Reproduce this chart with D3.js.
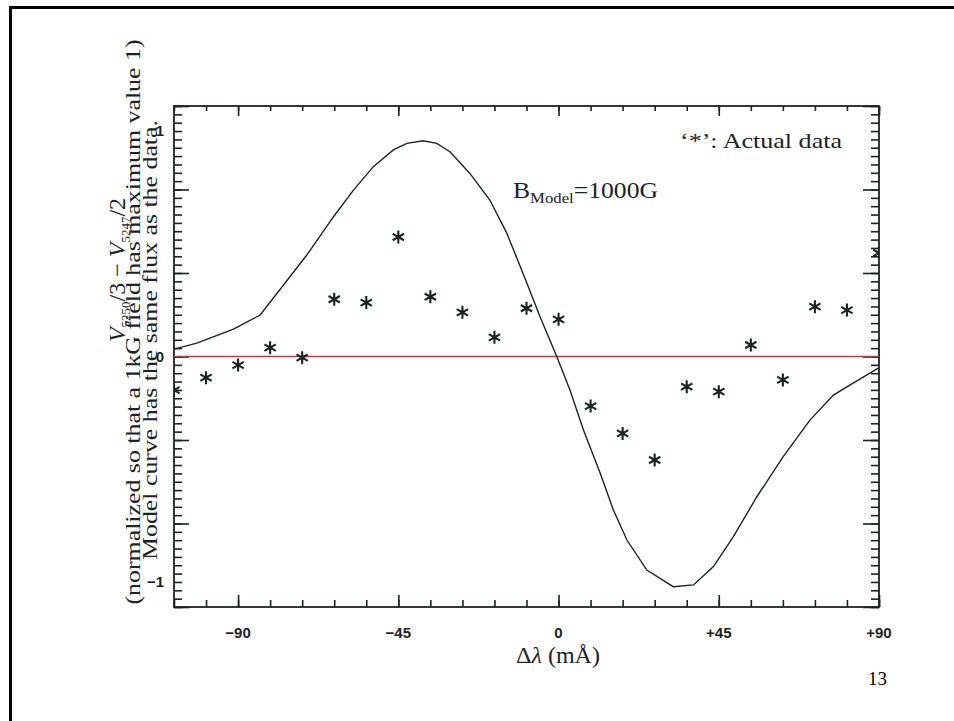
<!DOCTYPE html>
<html>
<head>
<meta charset="utf-8">
<script src="https://cdn.jsdelivr.net/npm/d3@7"></script>
<style>
  body { margin: 0; background: #fff; }
  svg { display: block; }
</style>
</head>
<body>
<svg id="chart" width="954" height="721"></svg>
<script>
// axis ranges and labels
const xDomain = [-108, 90];
const yDomain = [-1.111, 1.111];
const xTickLabels = [-90, -45, 0, 45, 90];
const yTickLabels = [-1, 0, 1];

// '*' : actual data (offset in mA, normalized V)
const dataOffsets = [-108, -99, -90, -81, -72, -63, -54, -45, -36, -27, -18, -9, 0, 9, 18, 27, 36, 45, 54, 63, 72, 81, 90];
const dataValues = [-0.149, -0.094, -0.038, 0.039, -0.005, 0.254, 0.239, 0.530, 0.265, 0.196, 0.085, 0.214, 0.165,
                    -0.220, -0.341, -0.459, -0.134, -0.156, 0.051, -0.104, 0.221, 0.206, 0.459];

// model curve, B = 1000G
const modelOffsets = [-108.2, -101.6, -91.3, -83.8, -77.9, -70.7, -63.2, -57.6, -52.0, -46.4, -42.6, -38.0, -34.2,
                      -30.5, -24.9, -19.3, -14.5, -8.9, -5.2, -0.5, 3.2, 7.0, 11.7, 15.4, 19.2, 24.8, 32.2, 37.9,
                      43.5, 49.1, 55.7, 63.1, 70.6, 77.2, 81.9, 89.8];
const modelValues = [0.032, 0.059, 0.121, 0.184, 0.304, 0.450, 0.620, 0.738, 0.842, 0.916, 0.945, 0.957, 0.945,
                     0.908, 0.812, 0.694, 0.546, 0.326, 0.176, 0.0, -0.149, -0.326, -0.518, -0.681, -0.814, -0.947,
                     -1.021, -1.013, -0.932, -0.799, -0.622, -0.444, -0.282, -0.171, -0.126, -0.052];

const ink = '#1b2424';
const svg = d3.select('#chart');

// slide border
svg.append('rect')
  .attr('x', 10.5).attr('y', 7.5)
  .attr('width', 1000).attr('height', 800)
  .attr('fill', 'none').attr('stroke', '#000').attr('stroke-width', 3);

const plotL = 174, plotR = 879, plotT = 106, plotB = 607;
const x = d3.scaleLinear().domain(xDomain).range([plotL, plotR]);
const y = d3.scaleLinear().domain(yDomain).range([plotB, plotT]);

const xMinor = d3.range(xDomain[0], xDomain[1] + 1, 9);
const xMajor = xMinor.filter(d => d % 45 === 0);
const yStep = (yDomain[1] - yDomain[0]) / 60;
const yMinor = d3.range(0, 61).map(i => yDomain[0] + i * yStep);
const yMajor = yMinor.filter((d, i) => i % 10 === 0);

function drawAxis(axis, tx, ty) {
  const g = svg.append('g')
    .attr('transform', `translate(${tx},${ty})`)
    .call(axis);
  g.select('.domain').remove();
  g.selectAll('line').attr('stroke', ink).attr('stroke-width', 1.6);
  g.selectAll('text').remove();
  return g;
}

// ticks pointing inward on all four sides
drawAxis(d3.axisBottom(x).tickValues(xMinor).tickSizeInner(-7).tickSizeOuter(0), 0, plotB);
drawAxis(d3.axisBottom(x).tickValues(xMajor).tickSizeInner(-12).tickSizeOuter(0), 0, plotB);
drawAxis(d3.axisTop(x).tickValues(xMinor).tickSizeInner(-5).tickSizeOuter(0), 0, plotT);
drawAxis(d3.axisTop(x).tickValues(xMajor).tickSizeInner(-10).tickSizeOuter(0), 0, plotT);
drawAxis(d3.axisLeft(y).tickValues(yMinor).tickSizeInner(-8).tickSizeOuter(0), plotL, 0);
drawAxis(d3.axisLeft(y).tickValues(yMajor).tickSizeInner(-15).tickSizeOuter(0), plotL, 0);
drawAxis(d3.axisRight(y).tickValues(yMinor).tickSizeInner(-8).tickSizeOuter(0), plotR, 0);
drawAxis(d3.axisRight(y).tickValues(yMajor).tickSizeInner(-16).tickSizeOuter(0), plotR, 0);

// frame
svg.append('rect')
  .attr('x', plotL).attr('y', plotT)
  .attr('width', plotR - plotL).attr('height', plotB - plotT)
  .attr('fill', 'none').attr('stroke', ink).attr('stroke-width', 1.8);

// tick labels
const sans = '"Liberation Sans Narrow", "Liberation Sans", Arial, sans-serif';
const fmtX = d => d > 0 ? '+' + d : d < 0 ? '\u2212' + Math.abs(d) : '0';
svg.append('g').selectAll('text').data(xTickLabels).join('text')
  .attr('x', d => x(d)).attr('y', 638)
  .attr('text-anchor', 'middle')
  .attr('font-family', sans).attr('font-weight', 'bold')
  .attr('font-size', 15).attr('fill', ink)
  .text(fmtX);

svg.append('g').selectAll('text').data(yTickLabels).join('text')
  .attr('x', 164).attr('y', d => y(d) + 5)
  .attr('text-anchor', 'end')
  .attr('font-family', sans).attr('font-weight', 'bold')
  .attr('font-size', 15).attr('fill', ink)
  .text(d => d < 0 ? '\u2212' + Math.abs(d) : String(d));

svg.append('clipPath').attr('id', 'clip')
  .append('rect').attr('x', plotL).attr('y', plotT)
  .attr('width', plotR - plotL).attr('height', plotB - plotT);
const plot = svg.append('g').attr('clip-path', 'url(#clip)');

// zero line
plot.append('line')
  .attr('x1', plotL).attr('x2', plotR)
  .attr('y1', y(0)).attr('y2', y(0))
  .attr('stroke', '#a8483e').attr('stroke-width', 1.3);

// model curve
const model = modelOffsets.map((d, i) => [d, modelValues[i]]);
plot.append('path')
  .datum(model)
  .attr('fill', 'none').attr('stroke', ink).attr('stroke-width', 1.4)
  .attr('d', d3.line().x(d => x(d[0])).y(d => y(d[1])));

// asterisks
const r = 6.5;
const star = `M0,${-r}L0,${r}M${-r * 0.87},${-r / 2}L${r * 0.87},${r / 2}M${-r * 0.87},${r / 2}L${r * 0.87},${-r / 2}`;
const stars = plot.append('g').selectAll('g').data(dataOffsets).join('g')
  .attr('transform', (d, i) => `translate(${x(d)},${y(dataValues[i])})`);
stars.append('path')
  .attr('d', star)
  .attr('fill', 'none').attr('stroke', ink).attr('stroke-width', 2.1);
stars.append('circle').attr('r', 2.2).attr('fill', ink);

// annotations
const serif = '"Liberation Serif", "Times New Roman", serif';
svg.append('text')
  .attr('x', 680).attr('y', 148)
  .attr('font-family', serif).attr('font-size', 22).attr('fill', ink)
  .attr('textLength', 162).attr('lengthAdjust', 'spacingAndGlyphs')
  .text('\u2018*\u2019: Actual data');

const bm = svg.append('text')
  .attr('x', 513).attr('y', 198)
  .attr('font-family', serif).attr('font-size', 23).attr('fill', ink)
  .attr('textLength', 145).attr('lengthAdjust', 'spacingAndGlyphs');
bm.append('tspan').text('B');
bm.append('tspan').attr('font-size', 15).attr('dy', 5).text('Model');
bm.append('tspan').attr('dy', -5).text('=1000G');

// x title
const xt = svg.append('text')
  .attr('x', 558).attr('y', 663)
  .attr('text-anchor', 'middle')
  .attr('font-family', serif).attr('font-size', 24).attr('fill', ink);
xt.append('tspan').text('\u0394');
xt.append('tspan').attr('font-style', 'italic').text('\u03bb');
xt.append('tspan').text(' (m\u00c5)');

// y title, three rotated lines
const yt1 = svg.append('text')
  .attr('transform', 'translate(125,270) rotate(-90)')
  .attr('text-anchor', 'middle')
  .attr('font-family', serif).attr('font-size', 24).attr('fill', ink);
yt1.append('tspan').attr('font-style', 'italic').text('V');
yt1.append('tspan').attr('font-size', 13).attr('dy', 5).text('5250');
yt1.append('tspan').attr('dy', -5).text('/3 \u2212 ');
yt1.append('tspan').attr('font-style', 'italic').text('V');
yt1.append('tspan').attr('font-size', 13).attr('dy', 5).text('5247');
yt1.append('tspan').attr('dy', -5).text('/2');

svg.append('text')
  .attr('transform', 'translate(140,322) rotate(-90)')
  .attr('text-anchor', 'middle')
  .attr('font-family', serif).attr('font-size', 20).attr('fill', ink)
  .attr('textLength', 565).attr('lengthAdjust', 'spacingAndGlyphs')
  .text('(normalized so that a 1kG field has maximum value 1)');

svg.append('text')
  .attr('transform', 'translate(157,340) rotate(-90)')
  .attr('text-anchor', 'middle')
  .attr('font-family', serif).attr('font-size', 20).attr('fill', ink)
  .attr('textLength', 440).attr('lengthAdjust', 'spacingAndGlyphs')
  .text('Model curve has the same flux as the data.');

// page number
svg.append('text')
  .attr('x', 887).attr('y', 685)
  .attr('text-anchor', 'end')
  .attr('font-family', serif).attr('font-size', 19).attr('fill', '#000')
  .text('13');
</script>
</body>
</html>
